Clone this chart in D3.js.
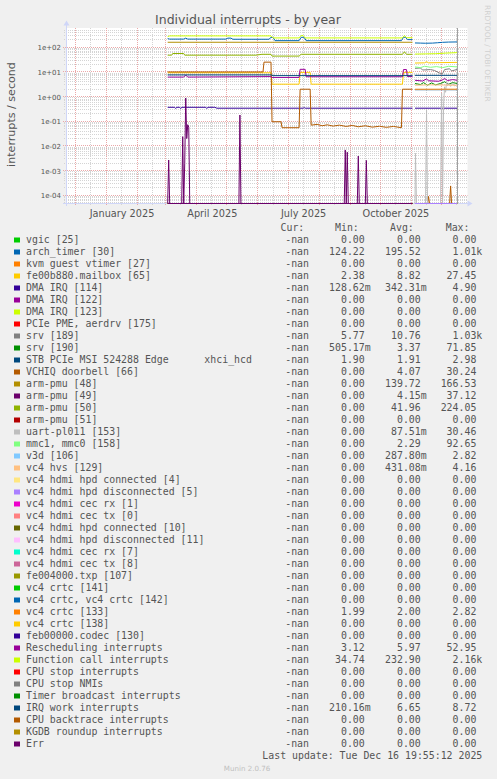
<!DOCTYPE html>
<html>
<head>
<meta charset="utf-8">
<script src="https://cdn.jsdelivr.net/npm/d3@7"></script>
<style>
  html, body { margin: 0; padding: 0; background: #f0f0f0; }
  svg { display: block; }
  text { font-family: "DejaVu Sans", sans-serif; fill: #555; }
  .mono { font-family: "DejaVu Sans Mono", monospace; font-size: 9.9px; white-space: pre; }
</style>
</head>
<body>
<svg id="chart" width="497" height="779"></svg>
<script>
// ---------- text ----------
const chartTitle = "Individual interrupts - by year";
const yAxisTitle = "interrupts / second";
const lastUpdate = "Last update: Tue Dec 16 19:55:12 2025";
const footer = "Munin 2.0.76";
const watermark = "RRDTOOL / TOBI OETIKER";

// ---------- axis ticks ----------
const yTickValues = [1e2, 1e1, 1e0, 1e-1, 1e-2, 1e-3, 1e-4];
const yTickLabels = ["1e+02", "1e+01", "1e+00", "1e-01", "1e-02", "1e-03", "1e-04"];
const xLabelDates = ["2025-01-16", "2025-04-16", "2025-07-16", "2025-10-16"];
const xLabels = ["January 2025", "April 2025", "July 2025", "October 2025"];

// ---------- legend ----------
const seriesNames = [
  "vgic [25]", "arch_timer [30]", "kvm guest vtimer [27]", "fe00b880.mailbox [65]",
  "DMA IRQ [114]", "DMA IRQ [122]", "DMA IRQ [123]", "PCIe PME, aerdrv [175]",
  "srv [189]", "srv [190]", "STB PCIe MSI 524288 Edge      xhci_hcd", "VCHIQ doorbell [66]",
  "arm-pmu [48]", "arm-pmu [49]", "arm-pmu [50]", "arm-pmu [51]",
  "uart-pl011 [153]", "mmc1, mmc0 [158]", "v3d [106]", "vc4 hvs [129]",
  "vc4 hdmi hpd connected [4]", "vc4 hdmi hpd disconnected [5]", "vc4 hdmi cec rx [1]", "vc4 hdmi cec tx [0]",
  "vc4 hdmi hpd connected [10]", "vc4 hdmi hpd disconnected [11]", "vc4 hdmi cec rx [7]", "vc4 hdmi cec tx [8]",
  "fe004000.txp [107]", "vc4 crtc [141]", "vc4 crtc, vc4 crtc [142]", "vc4 crtc [133]",
  "vc4 crtc [138]", "feb00000.codec [130]", "Rescheduling interrupts", "Function call interrupts",
  "CPU stop interrupts", "CPU stop NMIs", "Timer broadcast interrupts", "IRQ work interrupts",
  "CPU backtrace interrupts", "KGDB roundup interrupts", "Err"
];
const legendHeaders = ["Cur:", "Min:", "Avg:", "Max:"];
const curVals = seriesNames.map(() => "-nan");
const minVals = ["0.00","124.22","0.00","2.38","128.62m","0.00","0.00","0.00","5.77","505.17m","1.90","0.00",
  "0.00","0.00","0.00","0.00","0.00","0.00","0.00","0.00","0.00","0.00","0.00","0.00","0.00","0.00","0.00","0.00",
  "0.00","0.00","0.00","1.99","0.00","0.00","3.12","34.74","0.00","0.00","0.00","210.16m","0.00","0.00","0.00"];
const avgVals = ["0.00","195.52","0.00","8.82","342.31m","0.00","0.00","0.00","10.76","3.37","1.91","4.07",
  "139.72","4.15m","41.96","0.00","87.51m","2.29","287.80m","431.08m","0.00","0.00","0.00","0.00","0.00","0.00","0.00","0.00",
  "0.00","0.00","0.00","2.00","0.00","0.00","5.97","232.90","0.00","0.00","0.00","6.65","0.00","0.00","0.00"];
const maxVals = ["0.00","1.01k","0.00","27.45","4.90","0.00","0.00","0.00","1.03k","71.85","2.98","30.24",
  "166.53","37.12","224.05","0.00","30.46","92.65","2.82","4.16","0.00","0.00","0.00","0.00","0.00","0.00","0.00","0.00",
  "0.00","0.00","0.00","2.82","0.00","0.00","52.95","2.16k","0.00","0.00","0.00","8.72","0.00","0.00","0.00"];

// Munin's colour cycle
const palette = ["#00CC00","#0066B3","#FF8000","#FFCC00","#330099","#990099","#CCFF00","#FF0000","#808080",
  "#008F00","#00487D","#B35A00","#B38F00","#6B006B","#8FB300","#B30000","#BEBEBE","#80FF80","#80C9FF",
  "#FFC080","#FFE680","#AA80FF","#EE00CC","#FF8080","#666600","#FFBFFF","#00FFCC","#CC6699","#999900"];

// ---------- series (daily averages, interrupts / second; null = no data) ----------
const zeroBeforeReboot = [["2025-03-03",0],["2025-11-02",0]];
const zeroAfterReboot = [["2025-11-04T12:00",0],["2025-12-16T18:00",0]];
const noData = [];

const archTimer = [["2025-03-03",225],["2025-03-05",215],["2025-03-19",215],["2025-03-21",235],["2025-03-23",215],
  ["2025-04-30",215],["2025-05-02",235],["2025-05-05",235],["2025-05-07",212],["2025-06-12",212],["2025-06-14",252],
  ["2025-06-16",252],["2025-06-18",186],["2025-07-12",186],["2025-07-14",255],["2025-07-17",255],["2025-07-19",186],
  ["2025-10-22",186],["2025-10-24",255],["2025-10-26",255],["2025-10-28",205],["2025-11-02",205], null,
  ["2025-11-04T12:00",150],["2025-11-10",148],["2025-11-15",146],["2025-11-22",148],["2025-11-27",153],
  ["2025-12-02",159],["2025-12-08",163],["2025-12-16T18:00",165]];
const mailbox = [["2025-03-03",9.3],["2025-06-14",9.3],["2025-06-15",3.2],["2025-07-12",3.2],["2025-07-13",9.6],
  ["2025-07-23",9.6],["2025-07-24",3.2],["2025-10-23",3.2],["2025-10-24",9.6],["2025-11-02",9.6], null,
  ["2025-11-04T12:00",23],["2025-11-14",23.5],["2025-11-16",26],["2025-11-18",23.5],["2025-12-16T18:00",24.5]];
const dmaIrq114 = [["2025-03-03",0.37],["2025-03-10",0.37],["2025-03-11",0.33],["2025-03-12",0.37],["2025-03-15",0.37],
  ["2025-03-16",0.33],["2025-03-17",0.37],["2025-04-10",0.37],["2025-04-11",0.33],["2025-04-12",0.37],["2025-04-19",0.37],
  ["2025-04-21",0.34],["2025-07-16",0.34],["2025-07-17",0.36],["2025-07-18",0.34],["2025-11-02",0.34], null,
  ["2025-11-04T12:00",0.34],["2025-12-16T18:00",0.34]];
const srv189 = [["2025-11-04T12:00",14],["2025-11-10",14.5],["2025-11-12",12],["2025-11-20",12.5],["2025-11-24",11.5],
  ["2025-11-29",9],["2025-12-02",8.6],["2025-12-04",12.5],["2025-12-09",13.5],["2025-12-11",11],["2025-12-16T18:00",12.8]];
const srv190 = [["2025-11-04T12:00",3.4],["2025-11-10",3.1],["2025-11-13",3.7],["2025-11-17",2.9],["2025-11-21",3.6],
  ["2025-11-25",3.0],["2025-11-30",3.4],["2025-12-04",4.0],["2025-12-08",3.2],["2025-12-12",3.7],["2025-12-16T18:00",3.4]];
const stbPcie = [["2025-11-04T12:00",1.91],["2025-12-16T18:00",1.91]];
const vchiqDoorbell = [["2025-03-03",10],["2025-06-06",10],["2025-06-07",25],["2025-06-14",25],["2025-06-15",0.096],
  ["2025-06-24",0.096],["2025-06-25",0.055],["2025-07-12",0.055],["2025-07-13",2.0],["2025-07-23",2.0],["2025-07-24",0.07],
  ["2025-07-30",0.075],["2025-08-04",0.066],["2025-08-09",0.072],["2025-08-15",0.064],["2025-08-21",0.07],["2025-08-28",0.062],
  ["2025-09-03",0.068],["2025-09-09",0.06],["2025-09-16",0.066],["2025-09-23",0.058],["2025-09-30",0.063],["2025-10-07",0.057],
  ["2025-10-14",0.062],["2025-10-22",0.055],["2025-10-23",2.0],["2025-11-02",2.0], null,
  ["2025-11-04T12:00",0],["2025-11-17",0],["2025-11-18",0.00009],["2025-11-19",0],["2025-12-09",0],["2025-12-10",0.00024],
  ["2025-12-11",0],["2025-12-16T18:00",0]];
const armPmu48 = [["2025-03-03",160],["2025-11-02",160], null, ["2025-11-04T12:00",0],["2025-12-16T18:00",0]];
const armPmu49 = [["2025-03-03",0],["2025-03-04",0.0027],["2025-03-05",0],["2025-03-17",0],["2025-03-18",0.024],
  ["2025-03-19",0],["2025-03-20",0.002],["2025-03-21",0.88],["2025-03-22",0.02],["2025-03-23",0.073],["2025-03-24",0.058],
  ["2025-03-25",0],["2025-05-13",0],["2025-05-14",0.18],["2025-05-15",0],["2025-08-26",0],["2025-08-27",0.0069],
  ["2025-08-28",0],["2025-08-29",0.0056],["2025-08-30",0],["2025-09-08",0],["2025-09-09",0.0039],["2025-09-10",0],
  ["2025-09-16",0],["2025-09-17",0.0026],["2025-09-18",0],["2025-11-02",0]];
const armPmu50 = [["2025-03-03",48],["2025-03-07",48],["2025-03-08",56],["2025-03-19",56],["2025-03-20",48],
  ["2025-05-30",48],["2025-06-05",52],["2025-06-14",52],["2025-06-15",44],["2025-07-12",44],["2025-07-14",52],
  ["2025-10-23",52],["2025-10-25",66],["2025-10-27",52],["2025-11-02",52], null,
  ["2025-11-04T12:00",0],["2025-12-16T18:00",0]];
const uartPl011 = [["2025-03-03",0],["2025-11-02",0], null,
  ["2025-11-04T12:00",0],["2025-11-05",0.005],["2025-11-06",0],["2025-11-15",0],["2025-11-16",0.29],["2025-11-17",0],
  ["2025-11-30",0],["2025-12-01",1.4],["2025-12-02",0],["2025-12-03",0.5],["2025-12-04",2.5],["2025-12-05",1.5],
  ["2025-12-06",4.2],["2025-12-07",2.8],["2025-12-08",3.5],["2025-12-10",2.6],["2025-12-12",3.4],["2025-12-14",2.7],
  ["2025-12-16T18:00",3.2]];
const mmc = [["2025-03-03",0],["2025-11-02",0], null,
  ["2025-11-04T12:00",16],["2025-11-10",15],["2025-11-14",17],["2025-11-20",15.5],["2025-11-26",16.5],
  ["2025-12-02",15],["2025-12-08",17],["2025-12-16T18:00",16]];
const v3d = [["2025-03-03",0],["2025-11-02",0], null, ["2025-11-04T12:00",1.95],["2025-12-16T18:00",1.95]];
const vc4Hvs = [["2025-03-03",0],["2025-11-02",0], null,
  ["2025-11-04T12:00",2.9],["2025-11-20",3.0],["2025-12-16T18:00",2.9]];
const vc4Crtc133 = [["2025-11-04T12:00",1.99],["2025-12-16T18:00",2.0]];
const rescheduling = [["2025-03-03",6.2],["2025-03-19",6.2],["2025-03-21",7.5],["2025-03-23",6.2],["2025-06-14",6.5],
  ["2025-06-15",6.0],["2025-07-12",6.0],["2025-07-13",12.8],["2025-07-18",12.8],["2025-07-19",6.4],["2025-10-23",6.4],
  ["2025-10-24",12.5],["2025-10-27",12.5],["2025-10-28",6.5],["2025-11-02",6.5], null,
  ["2025-11-04T12:00",4.6],["2025-11-12",4.3],["2025-11-16",5.2],["2025-11-18",4.4],["2025-11-28",4.2],
  ["2025-12-02",4.8],["2025-12-04",5.4],["2025-12-07",4.5],["2025-12-12",4.9],["2025-12-16T18:00",4.6]];
const functionCall = [["2025-03-03",270],["2025-03-05",290],["2025-06-14",290],["2025-06-16",240],["2025-07-12",240],
  ["2025-07-14",300],["2025-07-16",300],["2025-07-18",240],["2025-10-23",240],["2025-10-25",300],["2025-10-27",245],
  ["2025-11-02",245], null,
  ["2025-11-04T12:00",53],["2025-11-15",54],["2025-11-25",55],["2025-12-05",58],["2025-12-16T18:00",61]];
const irqWork = [["2025-03-03",7.6],["2025-06-14",7.6],["2025-06-16",7.1],["2025-11-02",7.1], null,
  ["2025-11-04T12:00",7.3],["2025-12-16T18:00",7.3]];

// data for each legend entry, in drawing order
const seriesData = [
  zeroBeforeReboot, archTimer, zeroBeforeReboot, mailbox,
  dmaIrq114, zeroBeforeReboot, zeroBeforeReboot, zeroBeforeReboot,
  srv189, srv190, stbPcie, vchiqDoorbell,
  armPmu48, armPmu49, armPmu50, zeroBeforeReboot,
  uartPl011, mmc, v3d, vc4Hvs,
  noData, zeroAfterReboot, noData, noData,
  noData, noData, noData, noData,
  noData, noData, noData, vc4Crtc133,
  noData, noData, rescheduling, functionCall,
  zeroBeforeReboot, zeroBeforeReboot, zeroBeforeReboot, irqWork,
  zeroBeforeReboot, zeroBeforeReboot, zeroBeforeReboot
];

const nowStamp = "2025-12-16T19:55";

// ---------- drawing ----------
const parseT = s => new Date(s.length === 10 ? s + "T00:00:00Z" : s + ":00Z");
const svg = d3.select("#chart");
const plot = { left: 66, right: 467.5, top: 28, bottom: 203.5 };
const px = v => Math.round(v - 0.5) + 0.5;

const x = d3.scaleUtc()
  .domain([new Date(Date.UTC(2024, 10, 21, 16)), new Date(Date.UTC(2025, 11, 26, 8))])
  .range([66, 467]);
const yLo = Math.pow(10, -4.332), yHi = Math.pow(10, 2.762);
const y = d3.scaleLog().domain([yLo, yHi]).range([203.5, 28.5]).clamp(true);

// canvas
svg.append("rect").attr("x", plot.left).attr("y", plot.top)
  .attr("width", plot.right - plot.left).attr("height", plot.bottom - plot.top).attr("fill", "#ffffff");

const grid = svg.append("g").attr("fill", "none");
const minorColor = "#d4d4d4", majorColor = "#eaa8a8";
// horizontal grid: decades (major) and 2..9 steps (minor)
const hMinor = [], hMajor = [];
d3.range(-5, 3).forEach(k => {
  d3.range(1, 10).forEach(m => {
    const v = m * Math.pow(10, k);
    if (v >= yLo && v <= yHi) (m === 1 ? hMajor : hMinor).push(v);
  });
});
grid.selectAll(".hmin").data(hMinor).join("line")
  .attr("x1", 64).attr("x2", plot.right)
  .attr("y1", d => px(y(d))).attr("y2", d => px(y(d)))
  .attr("stroke", minorColor).attr("stroke-dasharray", "1,1");
// vertical grid: month starts (major) and mid-month (minor)
const [t0, t1] = x.domain();
const monthStarts = d3.utcMonth.range(t0, t1);
const midMonths = d3.utcMonth.range(d3.utcMonth.floor(t0), t1)
  .map(d => d3.utcDay.offset(d, 15)).filter(d => d >= t0 && d <= t1);
grid.selectAll(".vmin").data(midMonths).join("line")
  .attr("x1", d => px(x(d))).attr("x2", d => px(x(d)))
  .attr("y1", plot.top).attr("y2", 205)
  .attr("stroke", minorColor).attr("stroke-dasharray", "1,1");
grid.selectAll(".hmaj").data(hMajor).join("line")
  .attr("x1", 63).attr("x2", plot.right)
  .attr("y1", d => px(y(d))).attr("y2", d => px(y(d)))
  .attr("stroke", majorColor).attr("stroke-dasharray", "1,1");
grid.selectAll(".vmaj").data(monthStarts).join("line")
  .attr("x1", d => px(x(d))).attr("x2", d => px(x(d)))
  .attr("y1", plot.top).attr("y2", 206)
  .attr("stroke", majorColor).attr("stroke-dasharray", "1,1");

// axis lines with arrows
const axisColor = "#CFD6F8";
svg.append("line").attr("x1", 63).attr("x2", 468).attr("y1", 203.5).attr("y2", 203.5).attr("stroke", axisColor);
svg.append("line").attr("x1", 66.5).attr("x2", 66.5).attr("y1", 206).attr("y2", 24).attr("stroke", axisColor);
svg.append("path").attr("d", "M467.5,200.5L472.5,203.5L467.5,206.5Z").attr("fill", axisColor);
svg.append("path").attr("d", "M63.5,25.5L66.5,20.5L69.5,25.5Z").attr("fill", axisColor);

// tick labels
const yAxisG = svg.append("g").attr("transform", "translate(61,0)")
  .call(d3.axisLeft(y).tickValues(yTickValues).tickFormat((d, i) => yTickLabels[i]).tickSize(0).tickPadding(0));
yAxisG.select(".domain").remove();
yAxisG.attr("font-family", "DejaVu Sans").attr("font-size", 7);
yAxisG.selectAll("text").attr("dy", "0.36em").style("fill", "#555");

const xAxisG = svg.append("g").attr("transform", "translate(0,203)")
  .call(d3.axisBottom(x).tickValues(xLabelDates.map(parseT)).tickFormat((d, i) => xLabels[i]).tickSize(0).tickPadding(0));
xAxisG.select(".domain").remove();
xAxisG.attr("font-family", "DejaVu Sans").attr("font-size", 9.72);
xAxisG.selectAll("text").attr("y", 13.5).attr("dy", null).style("fill", "#555");

// series lines
svg.append("clipPath").attr("id", "plotClip").append("rect")
  .attr("x", plot.left).attr("y", plot.top - 1).attr("width", plot.right - plot.left).attr("height", plot.bottom - plot.top + 2);
const lineGen = d3.line()
  .defined(d => d !== null)
  .x(d => x(parseT(d[0])))
  .y(d => y(Math.max(d[1], yLo)));
svg.append("g").attr("clip-path", "url(#plotClip)").attr("fill", "none")
  .selectAll("path").data(seriesData).join("path")
  .attr("d", d => d.length ? lineGen(d) : null)
  .attr("stroke", (d, i) => palette[i % palette.length])
  .attr("stroke-width", 1);

// current time marker
const nowX = px(x(parseT(nowStamp)));
svg.append("line").attr("x1", nowX).attr("x2", nowX).attr("y1", plot.top).attr("y2", 203)
  .attr("stroke", "#a0a0a0");

// titles
svg.append("text").attr("x", 248).attr("y", 23.5).attr("text-anchor", "middle")
  .attr("font-size", 12.5).text(chartTitle);
svg.append("text").attr("transform", "translate(14.5,114.5) rotate(-90)").attr("text-anchor", "middle")
  .attr("font-size", 11.1).text(yAxisTitle);
svg.append("text").attr("transform", "translate(485,5) rotate(90)")
  .attr("font-size", 7.5).style("fill", "#d0d0d0").text(watermark);

// legend
const rowY = i => 243 + 12 * i;
const headerX = [280.5, 335, 390, 445.7];
svg.append("g").selectAll("text").data(legendHeaders).join("text")
  .attr("class", "mono").attr("x", (d, i) => headerX[i]).attr("y", 231).text(d => d);

const charW = 5.95;
const valueCols = [370.7, 426.7, 482.3];
const rows = svg.append("g").selectAll("g").data(seriesNames).join("g");
rows.append("rect").attr("x", 14).attr("y", (d, i) => rowY(i) - 5.5).attr("width", 6).attr("height", 5)
  .attr("fill", (d, i) => palette[i % palette.length]);
rows.append("text").attr("class", "mono").attr("x", 26).attr("y", (d, i) => rowY(i)).text(d => d);
rows.append("text").attr("class", "mono").attr("x", 309).attr("y", (d, i) => rowY(i))
  .attr("text-anchor", "end").text((d, i) => curVals[i]);
[minVals, avgVals, maxVals].forEach((vals, c) => {
  rows.append("text").attr("class", "mono")
    .attr("x", (d, i) => /[mk]$/.test(vals[i]) ? valueCols[c] : valueCols[c] - charW)
    .attr("y", (d, i) => rowY(i)).attr("text-anchor", "end").text((d, i) => vals[i]);
});

svg.append("text").attr("class", "mono").attr("x", 482.3).attr("y", rowY(seriesNames.length))
  .attr("text-anchor", "end").text(lastUpdate);
svg.append("text").attr("x", 247).attr("y", 771).attr("text-anchor", "middle")
  .attr("font-size", 7.1).style("fill", "#c0c0c0").text(footer);
</script>
</body>
</html>
